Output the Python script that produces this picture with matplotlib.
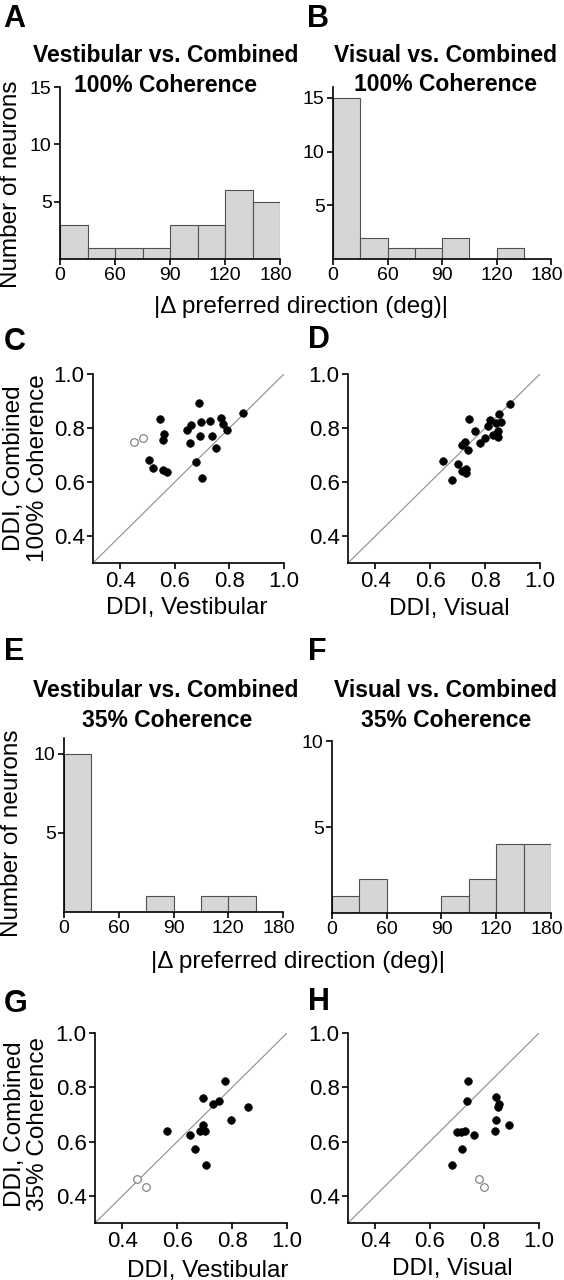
import numpy as np
import matplotlib.pyplot as plt
from matplotlib.transforms import ScaledTranslation

plt.rcParams['font.family'] = ['Liberation Sans', 'DejaVu Sans']

W, H = 564, 1280

# histogram data: 8 bins of 22.5 deg each
bin_left = [0, 22.5, 45, 67.5, 90, 112.5, 135, 157.5]
bin_width = 22.5
vest_100_counts = [3, 1, 1, 1, 3, 3, 6, 5]
vis_100_counts = [15, 2, 1, 1, 2, 0, 1, 0]
vest_35_counts = [10, 0, 0, 1, 0, 1, 1, 0]
vis_35_counts = [1, 2, 0, 0, 1, 2, 4, 4]
hist_tick_pos = [0, 45, 90, 135, 180]
hist_tick_labels = ['0', '60', '90', '120', '180']

# DDI scatter data, 100% coherence
vest_100_x = [0.545, 0.687, 0.659, 0.643, 0.694, 0.728, 0.768, 0.776, 0.791, 0.851, 0.561,
              0.557, 0.693, 0.737, 0.657, 0.749, 0.507, 0.519, 0.558, 0.572, 0.676, 0.698]
vest_100_y = [0.834, 0.894, 0.811, 0.793, 0.822, 0.827, 0.836, 0.814, 0.793, 0.855, 0.776,
              0.755, 0.771, 0.771, 0.744, 0.725, 0.683, 0.653, 0.645, 0.636, 0.674, 0.613]
vest_100_open_x = [0.452, 0.484]
vest_100_open_y = [0.748, 0.764]

vis_100_x = [0.891, 0.852, 0.858, 0.840, 0.818, 0.812, 0.741, 0.763, 0.848, 0.830, 0.848,
             0.799, 0.781, 0.726, 0.714, 0.736, 0.647, 0.702, 0.714, 0.730, 0.730, 0.680]
vis_100_y = [0.889, 0.852, 0.824, 0.818, 0.830, 0.808, 0.832, 0.789, 0.789, 0.774, 0.768,
             0.762, 0.744, 0.749, 0.737, 0.720, 0.678, 0.668, 0.642, 0.650, 0.633, 0.608]

# DDI scatter data, 35% coherence
vest_35_x = [0.773, 0.695, 0.731, 0.753, 0.857, 0.795, 0.562, 0.693, 0.683, 0.702, 0.648, 0.663, 0.704]
vest_35_y = [0.824, 0.762, 0.740, 0.751, 0.729, 0.680, 0.640, 0.661, 0.639, 0.639, 0.623, 0.573, 0.513]
vest_35_open_x = [0.452, 0.486]
vest_35_open_y = [0.461, 0.431]

vis_35_x = [0.741, 0.735, 0.844, 0.854, 0.851, 0.844, 0.838, 0.891, 0.701, 0.714, 0.727, 0.762, 0.717, 0.680]
vis_35_y = [0.824, 0.750, 0.764, 0.739, 0.729, 0.680, 0.640, 0.661, 0.637, 0.637, 0.640, 0.623, 0.573, 0.513]
vis_35_open_x = [0.779, 0.798]
vis_35_open_y = [0.461, 0.431]

ddi_ticks = [0.4, 0.6, 0.8, 1.0]
ddi_labels = ['0.4', '0.6', '0.8', '1.0']

fig = plt.figure(figsize=(W / 100, H / 100), dpi=100)


def px_axes(left, top, right, bottom):
    return fig.add_axes([left / W, 1 - bottom / H, (right - left) / W, (bottom - top) / H])


def ftext(x, y, s, **kw):
    fig.text(x / W, 1 - y / H, s, **kw)


def style(ax, tick_size):
    for side in ['top', 'right']:
        ax.spines[side].set_visible(False)
    for side in ['left', 'bottom']:
        ax.spines[side].set_linewidth(1.2)
    ax.tick_params(direction='out', length=4, width=1.2, labelsize=tick_size, pad=2)


def hist_panel(ax, counts, ymax, yticks):
    ax.bar(bin_left, counts, width=bin_width, align='edge', color='#d6d6d6',
           edgecolor='#505050', linewidth=0.8)
    ax.set_xlim(0, 180)
    ax.set_ylim(0, ymax)
    ax.set_xticks(hist_tick_pos)
    ax.set_xticklabels(hist_tick_labels)
    ax.set_yticks(yticks)
    style(ax, 14)
    # last label sits a little left of its tick, as in the figure
    last = ax.get_xticklabels()[-1]
    last.set_transform(last.get_transform() + ScaledTranslation(-4 / 100, 0, fig.dpi_scale_trans))


def scatter_panel(ax, xs, ys, ox=None, oy=None):
    ax.plot([0.3, 1.0], [0.3, 1.0], color='#8c8c8c', lw=0.8, zorder=1)
    ax.scatter(xs, ys, s=30, color='black', edgecolor='black', linewidth=0.5, zorder=3)
    if ox is not None:
        ax.scatter(ox, oy, s=30, facecolor='white', edgecolor='#777777', linewidth=0.8, zorder=3)
    ax.set_xlim(0.3, 1.0)
    ax.set_ylim(0.3, 1.0)
    ax.set_xticks(ddi_ticks)
    ax.set_xticklabels(ddi_labels)
    ax.set_yticks(ddi_ticks)
    ax.set_yticklabels(ddi_labels)
    style(ax, 16)


# row 1: histograms, 100% coherence
axA = px_axes(60, 87, 280, 259)
hist_panel(axA, vest_100_counts, 15, [5, 10, 15])
axB = px_axes(333, 87, 551, 259)
hist_panel(axB, vis_100_counts, 16, [5, 10, 15])

# row 2: scatter, 100% coherence
axC = px_axes(93, 374, 284, 563)
scatter_panel(axC, vest_100_x, vest_100_y, vest_100_open_x, vest_100_open_y)
axD = px_axes(348, 374, 540, 563)
scatter_panel(axD, vis_100_x, vis_100_y)

# row 3: histograms, 35% coherence
axE = px_axes(64, 738, 283, 912)
hist_panel(axE, vest_35_counts, 11, [5, 10])
axF = px_axes(332, 741, 551, 913)
hist_panel(axF, vis_35_counts, 10, [5, 10])

# row 4: scatter, 35% coherence
axG = px_axes(95, 1033, 287, 1223)
scatter_panel(axG, vest_35_x, vest_35_y, vest_35_open_x, vest_35_open_y)
axH = px_axes(348, 1033, 539, 1223)
scatter_panel(axH, vis_35_x, vis_35_y, vis_35_open_x, vis_35_open_y)

# panel letters
letter_kw = dict(fontsize=22, fontweight='bold', va='baseline', ha='left')
for letter, x, y in [('A', 3, 27), ('B', 307, 27), ('C', 4, 350), ('D', 308, 348),
                     ('E', 4, 660), ('F', 308, 660), ('G', 4, 1012), ('H', 308, 1010)]:
    ftext(x, y, letter, **letter_kw)

# histogram titles
title_kw = dict(fontsize=16.5, fontweight='bold', ha='center', va='baseline')
ftext(166, 62, 'Vestibular vs. Combined', **title_kw)
ftext(166, 92, '100% Coherence', **title_kw)
ftext(445, 62, 'Visual vs. Combined', **title_kw)
ftext(445, 91, '100% Coherence', **title_kw)
ftext(166, 697, 'Vestibular vs. Combined', **title_kw)
ftext(167, 727, '35% Coherence', **title_kw)
ftext(445, 697, 'Visual vs. Combined', **title_kw)
ftext(446, 727, '35% Coherence', **title_kw)

# axis labels
lab = 17.5
ftext(301, 313, '|\u0394 preferred direction (deg)|', fontsize=lab, ha='center', va='baseline')
ftext(298, 968, '|\u0394 preferred direction (deg)|', fontsize=lab, ha='center', va='baseline')
ftext(11, 184, 'Number of neurons', fontsize=lab, rotation=90, ha='center', va='center')
ftext(12, 833, 'Number of neurons', fontsize=lab, rotation=90, ha='center', va='center')

ftext(14, 468, 'DDI, Combined', fontsize=lab, rotation=90, ha='center', va='center')
ftext(38, 468, '100% Coherence', fontsize=lab, rotation=90, ha='center', va='center')
ftext(15, 1124, 'DDI, Combined', fontsize=lab, rotation=90, ha='center', va='center')
ftext(38, 1124, '35% Coherence', fontsize=lab, rotation=90, ha='center', va='center')

ftext(187, 614, 'DDI, Vestibular', fontsize=lab, ha='center', va='baseline')
ftext(449, 615, 'DDI, Visual', fontsize=lab, ha='center', va='baseline')
ftext(208, 1277, 'DDI, Vestibular', fontsize=lab, ha='center', va='baseline')
ftext(452, 1275, 'DDI, Visual', fontsize=lab, ha='center', va='baseline')

fig.savefig('out.png', dpi=100)
